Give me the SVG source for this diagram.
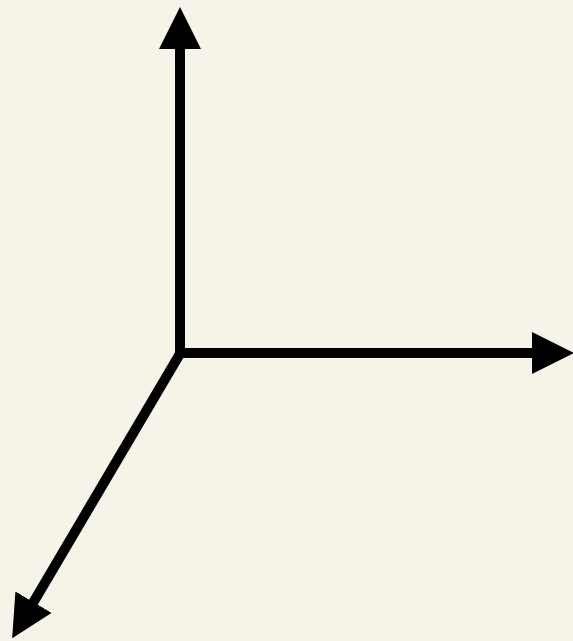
<svg xmlns="http://www.w3.org/2000/svg" width="573" height="641" viewBox="0 0 573 641">
<defs>
<marker id="ah" markerUnits="userSpaceOnUse" markerWidth="42" markerHeight="42" refX="1" refY="21" orient="auto" viewBox="0 0 42 42">
<path d="M0,0 L42,21 L0,42 Z" fill="#000"/>
</marker>
<filter id="tex" x="0" y="0" width="100%" height="100%">
<feTurbulence type="fractalNoise" baseFrequency="0.9" numOctaves="2" seed="3" result="n"/>
<feColorMatrix type="matrix" values="0 0 0 0 0.85  0 0 0 0 0.82  0 0 0 0 0.72  0 0 0 0.12 0" in="n" result="c"/>
<feComposite in="c" in2="SourceGraphic" operator="in"/>
</filter>
</defs>
<style>.ax{stroke:#000;stroke-width:10;fill:none;stroke-linecap:butt;marker-end:url(#ah)}</style>
<rect width="573" height="641" fill="#f7f4ea"/>
<rect width="573" height="641" fill="#000" filter="url(#tex)"/>
<g id="connectors">
<path class="ax" d="M180,358 L180,48"/>
<path class="ax" d="M175,353 L533,353"/>
<path class="ax" d="M181,352 L33,603"/>
</g>
</svg>
